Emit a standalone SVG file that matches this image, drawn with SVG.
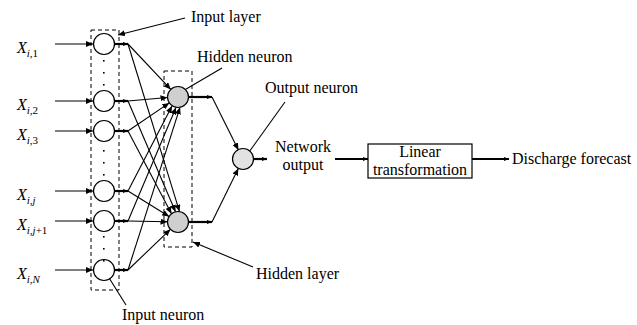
<svg xmlns="http://www.w3.org/2000/svg" width="637" height="325" viewBox="0 0 637 325">
<style>
text{font-family:"Liberation Serif","Times New Roman",serif;fill:#000;font-size:16px}
.l{stroke:#000;stroke-width:1.1;fill:none}
.t{stroke:#000;stroke-width:2.2;fill:none}
.dash{stroke:#000;stroke-width:1;fill:none;stroke-dasharray:4 3}
.in{fill:#fff;stroke:#000;stroke-width:1.2}
.hid{fill:#cfcfcf;stroke:#000;stroke-width:1.2}
.out{fill:#e2e2e2;stroke:#000;stroke-width:1.2}
.dot{fill:#000}
.sub{font-size:11px}
</style>
<defs>
<marker id="a" markerUnits="userSpaceOnUse" markerWidth="8" markerHeight="6" refX="7" refY="3" orient="auto"><path d="M0,0 L7,3 L0,6 z" fill="#000"/></marker>
<marker id="s" markerUnits="userSpaceOnUse" markerWidth="6" markerHeight="5" refX="5" refY="2.5" orient="auto"><path d="M0,0.5 L5,2.5 L0,4.5 z" fill="#000"/></marker>
</defs>

<g id="input-layer-box"><rect class="dash" x="91" y="30" width="28" height="260"/></g>
<g id="hidden-layer-box"><rect class="dash" x="164" y="71" width="28" height="176"/></g>

<g id="connectors">
<!-- inputs -->
<line class="l" x1="55" y1="44" x2="93" y2="44" marker-end="url(#a)"/>
<line class="l" x1="55" y1="101" x2="93" y2="101" marker-end="url(#a)"/>
<line class="l" x1="55" y1="131" x2="93" y2="131" marker-end="url(#a)"/>
<line class="l" x1="55" y1="191" x2="93" y2="191" marker-end="url(#a)"/>
<line class="l" x1="55" y1="221" x2="93" y2="221" marker-end="url(#a)"/>
<line class="l" x1="55" y1="270" x2="93" y2="270" marker-end="url(#a)"/>
<!-- input stubs -->
<line class="t" x1="115" y1="44" x2="128" y2="44" marker-end="url(#s)"/>
<line class="t" x1="115" y1="101" x2="128" y2="101" marker-end="url(#s)"/>
<line class="t" x1="115" y1="131" x2="128" y2="131" marker-end="url(#s)"/>
<line class="t" x1="115" y1="191" x2="128" y2="191" marker-end="url(#s)"/>
<line class="t" x1="115" y1="221" x2="128" y2="221" marker-end="url(#s)"/>
<line class="t" x1="115" y1="270" x2="128" y2="270" marker-end="url(#s)"/>
<!-- to hidden 1 -->
<line class="l" x1="128" y1="44" x2="170.8" y2="89.4" marker-end="url(#a)"/>
<line class="l" x1="128" y1="101" x2="167.5" y2="97.5" marker-end="url(#a)"/>
<line class="l" x1="128" y1="131" x2="169.3" y2="102.9" marker-end="url(#a)"/>
<line class="l" x1="128" y1="191" x2="172" y2="106" marker-end="url(#a)"/>
<line class="l" x1="128" y1="221" x2="176" y2="107.5" marker-end="url(#a)"/>
<line class="l" x1="128" y1="270" x2="180" y2="107.3" marker-end="url(#a)"/>
<!-- to hidden 2 -->
<line class="l" x1="128" y1="44" x2="179.5" y2="211.6" marker-end="url(#a)"/>
<line class="l" x1="128" y1="101" x2="175.5" y2="211.8" marker-end="url(#a)"/>
<line class="l" x1="128" y1="131" x2="171.5" y2="213.8" marker-end="url(#a)"/>
<line class="l" x1="128" y1="191" x2="169.1" y2="216.5" marker-end="url(#a)"/>
<line class="l" x1="128" y1="221" x2="167.5" y2="221.8" marker-end="url(#a)"/>
<line class="l" x1="128" y1="270" x2="170.4" y2="229.3" marker-end="url(#a)"/>
<!-- hidden stubs -->
<line class="t" x1="189" y1="97" x2="212" y2="97" marker-end="url(#s)"/>
<line class="t" x1="189" y1="222" x2="212" y2="222" marker-end="url(#s)"/>
<line class="l" x1="212" y1="97" x2="238.4" y2="150" marker-end="url(#a)"/>
<line class="l" x1="212" y1="222" x2="238.3" y2="168.5" marker-end="url(#a)"/>
<!-- output -->
<line class="t" x1="253.5" y1="159" x2="267" y2="159" marker-end="url(#s)"/>
<line class="t" x1="335" y1="159" x2="368" y2="159" marker-end="url(#s)"/>
<line class="t" x1="472" y1="159" x2="509" y2="159" marker-end="url(#s)"/>
<!-- label pointers -->
<line class="l" x1="185" y1="18" x2="118" y2="35" marker-end="url(#a)"/>
<line class="l" x1="222" y1="68" x2="176" y2="95" marker-end="url(#a)"/>
<line class="l" x1="285" y1="102" x2="244" y2="159" marker-end="url(#a)"/>
<line class="l" x1="253" y1="267" x2="193" y2="242" marker-end="url(#a)"/>
<line class="l" x1="126" y1="305" x2="106" y2="273" marker-end="url(#a)"/>
</g>

<g id="input-neurons">
<circle class="in" cx="104" cy="44" r="10.5"/>
<circle class="in" cx="104" cy="101" r="10.5"/>
<circle class="in" cx="104" cy="131" r="10.5"/>
<circle class="in" cx="104" cy="191" r="10.5"/>
<circle class="in" cx="104" cy="221" r="10.5"/>
<circle class="in" cx="104" cy="270" r="10.5"/>
<rect class="dot" x="103" y="60" width="1.6" height="1.6"/>
<rect class="dot" x="103" y="72" width="1.6" height="1.6"/>
<rect class="dot" x="103" y="84" width="1.6" height="1.6"/>
<rect class="dot" x="103" y="150" width="1.6" height="1.6"/>
<rect class="dot" x="103" y="162" width="1.6" height="1.6"/>
<rect class="dot" x="103" y="174" width="1.6" height="1.6"/>
<rect class="dot" x="103" y="236" width="1.6" height="1.6"/>
<rect class="dot" x="103" y="248" width="1.6" height="1.6"/>
<rect class="dot" x="103" y="260" width="1.6" height="1.6"/>
</g>

<g id="hidden-neuron-1"><circle class="hid" cx="178" cy="97" r="10.5"/></g>
<g id="hidden-neuron-2"><circle class="hid" cx="178" cy="222" r="10.5"/></g>
<g id="output-neuron"><circle class="out" cx="243" cy="159" r="10.5"/></g>

<g id="linear-transformation">
<rect x="368" y="144" width="104" height="34" fill="#fff" stroke="#000" stroke-width="1.2"/>
<text x="420" y="157" text-anchor="middle">Linear</text>
<text x="420" y="175" text-anchor="middle">transformation</text>
</g>

<g id="input-labels">
<text x="17" y="53"><tspan font-style="italic">X</tspan><tspan class="sub" dy="4"><tspan font-style="italic">i</tspan>,1</tspan></text>
<text x="17" y="110"><tspan font-style="italic">X</tspan><tspan class="sub" dy="4"><tspan font-style="italic">i</tspan>,2</tspan></text>
<text x="17" y="140"><tspan font-style="italic">X</tspan><tspan class="sub" dy="4"><tspan font-style="italic">i</tspan>,3</tspan></text>
<text x="17" y="200"><tspan font-style="italic">X</tspan><tspan class="sub" dy="4" font-style="italic">i,j</tspan></text>
<text x="17" y="230"><tspan font-style="italic">X</tspan><tspan class="sub" dy="4"><tspan font-style="italic">i,j</tspan>+1</tspan></text>
<text x="17" y="279"><tspan font-style="italic">X</tspan><tspan class="sub" dy="4" font-style="italic">i,N</tspan></text>
</g>

<g id="labels">
<text x="191" y="22">Input layer</text>
<text x="197" y="62">Hidden neuron</text>
<text x="265" y="93">Output neuron</text>
<text x="256" y="279">Hidden layer</text>
<text x="122" y="320">Input neuron</text>
<text x="303" y="152" text-anchor="middle">Network</text>
<text x="303" y="170" text-anchor="middle">output</text>
<text x="512" y="164">Discharge forecast</text>
</g>
</svg>
